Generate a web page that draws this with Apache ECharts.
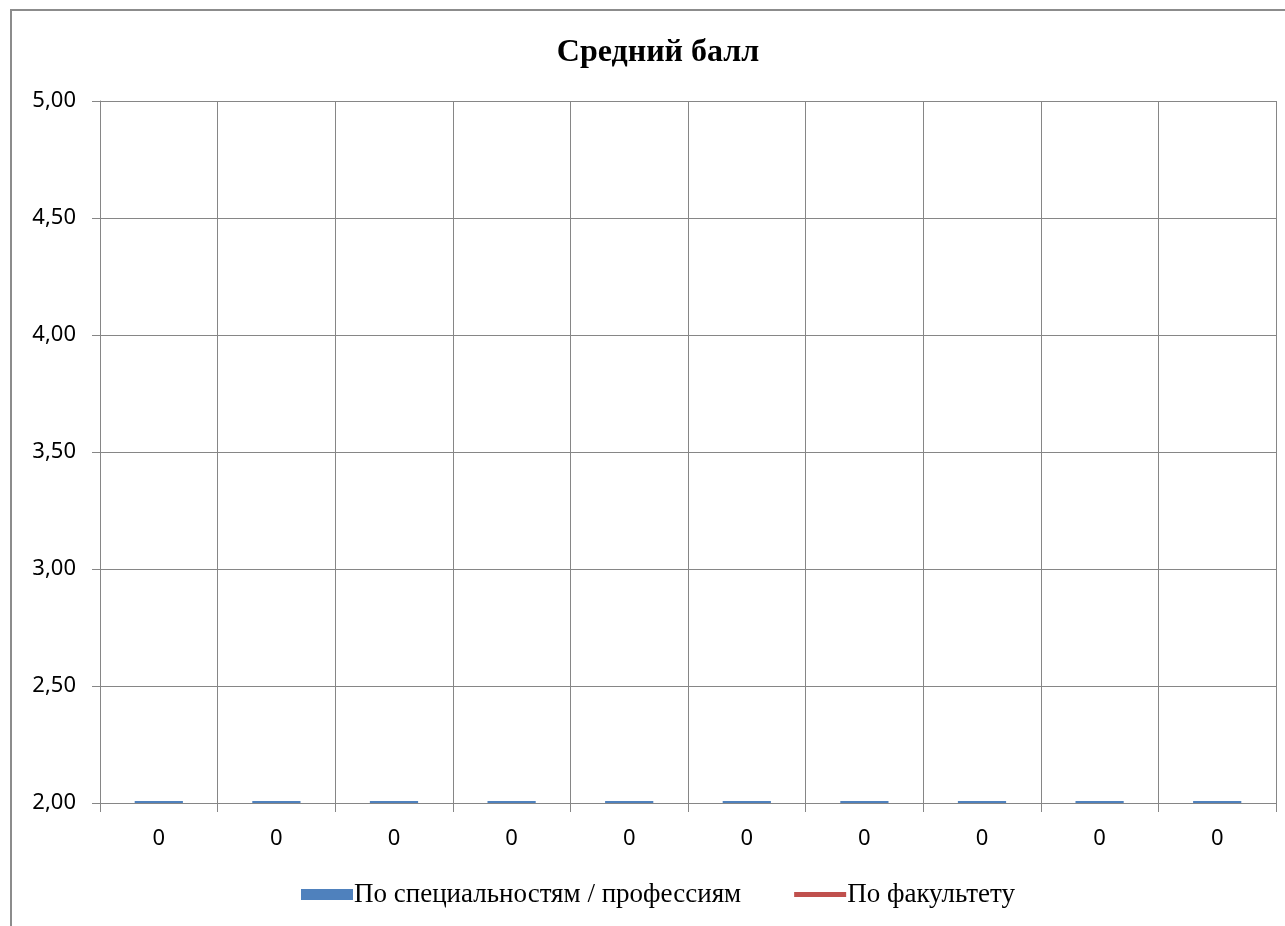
<!DOCTYPE html>
<html><head><meta charset="utf-8">
<script src="https://cdn.jsdelivr.net/npm/echarts@6/dist/echarts.min.js"></script>
<style>html,body{margin:0;padding:0;background:#fff}#c{width:1285px;height:926px}</style>
</head><body><div id="c"></div>
<script>
const categories = ['0','0','0','0','0','0','0','0','0','0'];
const specialtyValues = [2,2,2,2,2,2,2,2,2,2];
const facultyValues = [0,0,0,0,0,0,0,0,0,0];
const seriesNames = ['По специальностям / профессиям','По факультету'];
const titleText = 'Средний балл';

const chart = echarts.init(document.getElementById('c'));
chart.setOption({
  animation:false,
  backgroundColor:'#fff',
  graphic:[{type:'rect',shape:{x:11,y:10,width:1300,height:940},style:{fill:'none',stroke:'#8c8c8c',lineWidth:2},z:-1}],
  title:{text:titleText,left:653,top:32,textAlign:'center',textStyle:{fontFamily:'Liberation Serif',fontWeight:'bold',fontSize:32,color:'#000'}},
  legend:{bottom:13,left:296,itemGap:53,itemWidth:52,itemHeight:11,
    textStyle:{fontFamily:'Liberation Serif',fontSize:27,color:'#000',padding:[0,0,0,-4]},
    data:[{name:seriesNames[0],icon:'rect'},{name:seriesNames[1],icon:'path://M0,0 L10,0 L10,1 L0,1 Z'}]},
  grid:{left:100,right:9,top:101,bottom:123,containLabel:false},
  xAxis:{type:'category',data:categories,boundaryGap:true,
    axisLine:{lineStyle:{color:'#868686',width:1}},
    axisTick:{show:true,length:9,lineStyle:{color:'#868686'}},
    splitLine:{show:true,lineStyle:{color:'#868686',width:1}},
    axisLabel:{fontFamily:'Noto Sans',fontSize:22,color:'#000',margin:25}},
  yAxis:{type:'value',min:2,max:5,interval:0.5,startValue:2,
    axisLine:{show:true,lineStyle:{color:'#868686'}},
    axisTick:{show:true,length:8,lineStyle:{color:'#868686'}},
    splitLine:{show:true,lineStyle:{color:'#868686',width:1}},
    axisLabel:{fontFamily:'Noto Sans',fontSize:22,color:'#000',margin:24,
      formatter:v=>v.toFixed(2).replace('.',',')}},
  series:[
    {name:seriesNames[0],type:'bar',data:specialtyValues,barWidth:'41%',z:5,clip:false,barMinHeight:2,
      itemStyle:{color:'#4F81BD'}},
    {name:seriesNames[1],type:'line',data:facultyValues,symbol:'none',clip:true,
      lineStyle:{color:'#C0504D',width:4},itemStyle:{color:'#C0504D'}}
  ]
});
</script></body></html>
